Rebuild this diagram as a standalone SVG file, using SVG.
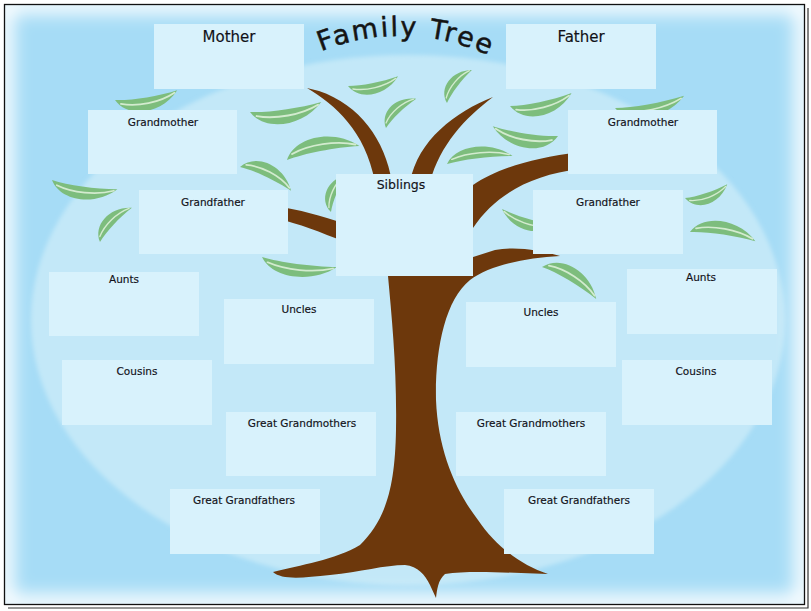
<svg xmlns="http://www.w3.org/2000/svg" width="811" height="611" viewBox="0 0 811 611">
<defs>
  <style>
    .box { fill:#d8f2fc; filter:url(#soft); }
    .lbl { font-family:"DejaVu Sans","Liberation Sans",sans-serif; font-size:10.5px; fill:#111118; stroke:#111118; stroke-width:0.15; text-anchor:middle; }
    .big { font-size:15px; }
    .mid { font-size:12.5px; }
    .wood { fill:#6d380c; }
  </style>
  <filter id="soft" x="-5%" y="-5%" width="110%" height="110%"><feGaussianBlur stdDeviation="0.6"/></filter>
  <filter id="glow" x="-10%" y="-10%" width="120%" height="120%"><feGaussianBlur stdDeviation="9"/></filter>
  <filter id="esoft" x="-5%" y="-5%" width="110%" height="110%"><feGaussianBlur stdDeviation="2"/></filter>
  <clipPath id="frame"><rect x="4" y="4" width="800" height="600"/></clipPath>
  <g id="leaf">
    <path d="M0,0 C10,20 42,20 60,0 C40,3 15,3 0,0 Z" fill="#7dbd7d"/>
    <path d="M5,4.5 C20,10 42,9 57,2" fill="none" stroke="#d3ebcf" stroke-width="1.7" stroke-linecap="round"/>
  </g>
  <path id="arc" d="M188,248 A212,212 0 0 1 612,248"/>
</defs>

<rect x="0" y="0" width="811" height="611" fill="#ffffff"/>
<g clip-path="url(#frame)">
  <rect x="4" y="4" width="800" height="600" fill="#a6dcf6"/>
  <ellipse cx="408" cy="320" rx="377" ry="265" fill="#c3e8f8" filter="url(#esoft)"/>
  <rect x="4" y="4" width="800" height="600" fill="none" stroke="#ffffff" stroke-width="18" filter="url(#glow)"/>
</g>
<rect x="4.5" y="4.5" width="800" height="600" fill="none" stroke="#111111" stroke-width="1.3"/>
<path d="M808,8 V608 H8" fill="none" stroke="#333333" stroke-width="1.2"/>

<g id="tree">
  <path class="wood" d="M386,262 L388,276 C392,320 397,370 396,430 C395,490 385,520 360,545 C335,560 300,565 273,572 C282,580 302,578 330,575 C360,572 385,565 405,565 C418,566 425,575 430,585 L436,598 C437,590 438,580 445,574 C470,570 510,573 548,574 C520,565 495,545 478,520 C455,490 438,450 436,400 C435,350 445,300 470,280 C490,265 525,258 560,256 C540,250 515,246 495,250 L470,258 L450,262 Z"/>
  <path class="wood" d="M307,88 C335,105 365,130 375,182 L392,182 C385,140 360,105 319,91 Z"/>
  <path class="wood" d="M493,97 C455,112 418,140 410,182 L430,182 C440,145 465,118 493,97 Z"/>
  <path class="wood" d="M455,200 L473,185 C495,170 530,158 580,152 L580,169 C530,175 495,195 473,228 L455,240 Z"/>
  <path class="wood" d="M275,206 C300,210 320,215 345,224 L345,242 C320,232 300,224 275,218 Z"/>
</g>

<g id="leaves">
  <use href="#leaf" transform="translate(115,100) rotate(-9) scale(1.05,1.05)"/>
  <use href="#leaf" transform="translate(250,112) rotate(-8) scale(1.2,1.1)"/>
  <use href="#leaf" transform="translate(348,86) rotate(-11) scale(0.85,0.85)"/>
  <use href="#leaf" transform="translate(447,103) rotate(-53) scale(0.69,-0.8)"/>
  <use href="#leaf" transform="translate(386,128) rotate(-44) scale(0.7,-0.8)"/>
  <use href="#leaf" transform="translate(510,106) rotate(-12) scale(1.05,1.05)"/>
  <use href="#leaf" transform="translate(615,108) rotate(-10) scale(1.17,1.0)"/>
  <use href="#leaf" transform="translate(558,136) rotate(188.6) scale(1.1,-1.1)"/>
  <use href="#leaf" transform="translate(287,160) rotate(-11) scale(1.23,-1.1)"/>
  <use href="#leaf" transform="translate(447,164) rotate(-7) scale(1.1,-0.9)"/>
  <use href="#leaf" transform="translate(240,167) rotate(25) scale(0.94,-1.0)"/>
  <use href="#leaf" transform="translate(52,180) rotate(8) scale(1.1,1.0)"/>
  <use href="#leaf" transform="translate(100,242) rotate(-47) scale(0.78,-0.85)"/>
  <use href="#leaf" transform="translate(331,212) rotate(-68) scale(0.67,-0.8)"/>
  <use href="#leaf" transform="translate(552,224) rotate(196.7) scale(0.87,-0.87)"/>
  <use href="#leaf" transform="translate(685,198) rotate(-18) scale(0.74,0.85)"/>
  <use href="#leaf" transform="translate(690,232) rotate(8) scale(1.1,-1.0)"/>
  <use href="#leaf" transform="translate(262,257) rotate(7.6) scale(1.26,1.0)"/>
  <use href="#leaf" transform="translate(542,267) rotate(30.6) scale(1.05,-1.05)"/>
</g>

<g id="connectors"/>

<g id="mother"><rect class="box" x="154" y="24" width="150" height="65"/><text class="lbl big" x="229" y="42">Mother</text></g>
<g id="father"><rect class="box" x="506" y="24" width="150" height="65"/><text class="lbl big" x="581" y="42">Father</text></g>
<g id="grandmother-left"><rect class="box" x="88" y="110" width="149" height="64"/><text class="lbl" x="163" y="126">Grandmother</text></g>
<g id="grandmother-right"><rect class="box" x="568" y="110" width="149" height="64"/><text class="lbl" x="643" y="126">Grandmother</text></g>
<g id="grandfather-left"><rect class="box" x="139" y="190" width="149" height="64"/><text class="lbl" x="213" y="206">Grandfather</text></g>
<g id="grandfather-right"><rect class="box" x="533" y="190" width="150" height="64"/><text class="lbl" x="608" y="206">Grandfather</text></g>
<g id="siblings"><rect class="box" x="336" y="174" width="137" height="102"/><text class="lbl mid" x="401" y="189">Siblings</text></g>
<g id="aunts-left"><rect class="box" x="49" y="272" width="150" height="64"/><text class="lbl" x="124" y="283">Aunts</text></g>
<g id="aunts-right"><rect class="box" x="627" y="269" width="150" height="65"/><text class="lbl" x="701" y="281">Aunts</text></g>
<g id="uncles-left"><rect class="box" x="224" y="299" width="150" height="65"/><text class="lbl" x="299" y="313">Uncles</text></g>
<g id="uncles-right"><rect class="box" x="466" y="302" width="150" height="65"/><text class="lbl" x="541" y="316">Uncles</text></g>
<g id="cousins-left"><rect class="box" x="62" y="360" width="150" height="65"/><text class="lbl" x="137" y="375">Cousins</text></g>
<g id="cousins-right"><rect class="box" x="622" y="360" width="150" height="65"/><text class="lbl" x="696" y="375">Cousins</text></g>
<g id="great-grandmothers-left"><rect class="box" x="226" y="412" width="150" height="64"/><text class="lbl" x="302" y="427">Great Grandmothers</text></g>
<g id="great-grandmothers-right"><rect class="box" x="456" y="412" width="150" height="64"/><text class="lbl" x="531" y="427">Great Grandmothers</text></g>
<g id="great-grandfathers-left"><rect class="box" x="170" y="489" width="150" height="65"/><text class="lbl" x="244" y="504">Great Grandfathers</text></g>
<g id="great-grandfathers-right"><rect class="box" x="504" y="489" width="150" height="65"/><text class="lbl" x="579" y="504">Great Grandfathers</text></g>

<g id="title">
  <text font-family="DejaVu Sans, Liberation Sans, sans-serif" font-size="27" fill="#141414" stroke="#141414" stroke-width="0.5"><textPath href="#arc" startOffset="338" text-anchor="middle" textLength="172" lengthAdjust="spacing">Family Tree</textPath></text>
</g>
</svg>
